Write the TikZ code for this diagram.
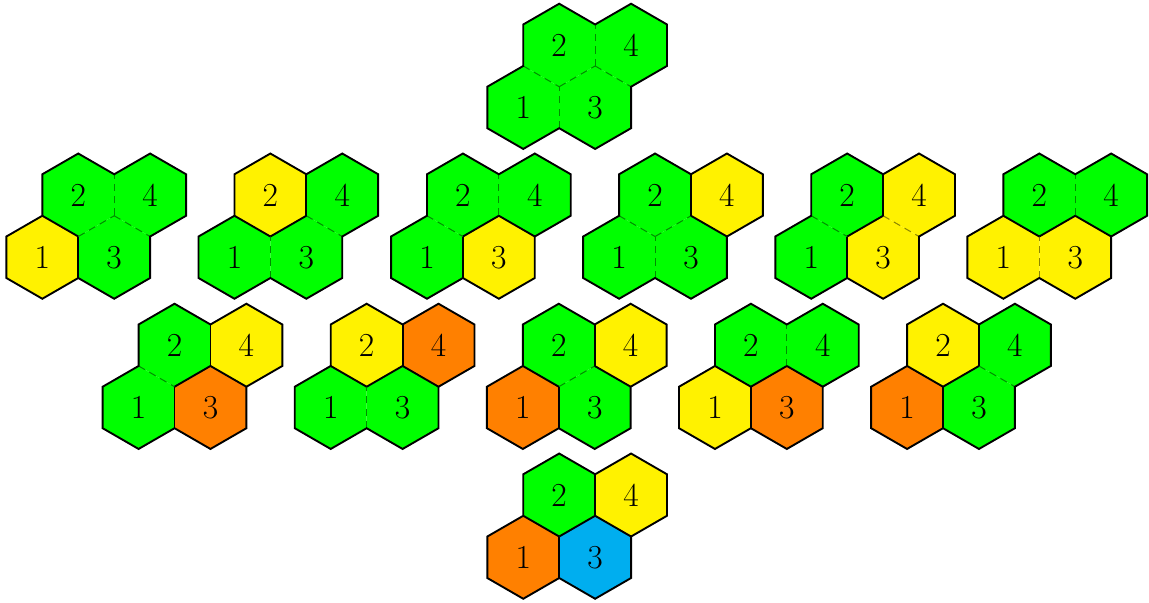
\documentclass[tikz,border=0pt]{standalone}
\usepackage{tikz}
\usepackage{xcolor}
\usetikzlibrary{calc}

\definecolor{hexgreen}{RGB}{0,255,0}
\definecolor{hexyellow}{RGB}{255,242,0}
\definecolor{hexorange}{RGB}{255,128,0}
\definecolor{hexblue}{RGB}{0,174,239}

\tikzset{
  outer edge/.style={draw=black, line width=1.3pt},
  same edge/.style={draw=#1!55!black, line width=0.7pt, dash pattern=on 5pt off 3.5pt},
  digit/.style={inner sep=0pt, font=\fontsize{23}{28}\selectfont}
}

% one cell, pointy top, circumradius 1
\newcommand{\hexcell}[2]{%
  \fill[#1] #2 ++(30:1) -- ++(150:1) -- ++(210:1) -- ++(270:1) -- ++(330:1) -- ++(30:1) -- cycle;}
% shared side: dashed when both cells have one colour
\newcommand{\hexdash}[4]{%
  \def\hexA{#1}\def\hexB{#2}%
  \ifx\hexA\hexB \draw[same edge=#1] #3 -- #4; \fi}
% shared side: black when the colours differ
\newcommand{\hexline}[4]{%
  \def\hexA{#1}\def\hexB{#2}%
  \ifx\hexA\hexB \else \draw[outer edge] #3 -- #4; \fi}
% group of four cells, cell 1 at the origin
\newcommand{\hexgroup}[5]{%
  \hexcell{#2}{(0,0)}
  \hexcell{#3}{(0.866,1.5)}
  \hexcell{#4}{(1.732,0)}
  \hexcell{#5}{(2.598,1.5)}
  \hexdash{#2}{#4}{(0.866,-0.5)}{(0.866,0.5)}
  \hexdash{#2}{#3}{(0,1)}{(0.866,0.5)}
  \hexdash{#3}{#4}{(0.866,0.5)}{(1.732,1)}
  \hexdash{#4}{#5}{(1.732,1)}{(2.598,0.5)}
  \hexdash{#3}{#5}{(1.732,1)}{(1.732,2)}
  \hexline{#2}{#4}{(0.866,-0.5)}{(0.866,0.5)}
  \hexline{#2}{#3}{(0,1)}{(0.866,0.5)}
  \hexline{#3}{#4}{(0.866,0.5)}{(1.732,1)}
  \hexline{#4}{#5}{(1.732,1)}{(2.598,0.5)}
  \hexline{#3}{#5}{(1.732,1)}{(1.732,2)}
  \draw[outer edge] (0,-1) -- (0.866,-0.5) -- (1.732,-1) -- (2.598,-0.5) -- (2.598,0.5)
    -- (3.464,1) -- (3.464,2) -- (2.598,2.5) -- (1.732,2) -- (0.866,2.5) -- (0,2)
    -- (0,1) -- (-0.866,0.5) -- (-0.866,-0.5) -- cycle;
  \node[digit] (#1-1) at (0,0) {1};
  \node[digit] (#1-2) at (0.866,1.5) {2};
  \node[digit] (#1-3) at (1.732,0) {3};
  \node[digit] (#1-4) at (2.598,1.5) {4};}

\begin{document}
\begin{tikzpicture}
  \useasboundingbox (0,0) rectangle (27.69,14.53);
  % top
  \begin{scope}[shift={(12.61,11.94)}]
    \hexgroup{top}{hexgreen}{hexgreen}{hexgreen}{hexgreen}
  \end{scope}
  % second row
  \begin{scope}[shift={(1.02,8.33)}]
    \hexgroup{b1}{hexyellow}{hexgreen}{hexgreen}{hexgreen}
  \end{scope}
  \begin{scope}[shift={(5.65,8.33)}]
    \hexgroup{b2}{hexgreen}{hexyellow}{hexgreen}{hexgreen}
  \end{scope}
  \begin{scope}[shift={(10.29,8.33)}]
    \hexgroup{b3}{hexgreen}{hexgreen}{hexyellow}{hexgreen}
  \end{scope}
  \begin{scope}[shift={(14.92,8.33)}]
    \hexgroup{b4}{hexgreen}{hexgreen}{hexgreen}{hexyellow}
  \end{scope}
  \begin{scope}[shift={(19.55,8.33)}]
    \hexgroup{b5}{hexgreen}{hexgreen}{hexyellow}{hexyellow}
  \end{scope}
  \begin{scope}[shift={(24.18,8.33)}]
    \hexgroup{b6}{hexyellow}{hexgreen}{hexyellow}{hexgreen}
  \end{scope}
  % third row
  \begin{scope}[shift={(3.34,4.71)}]
    \hexgroup{c1}{hexgreen}{hexgreen}{hexorange}{hexyellow}
  \end{scope}
  \begin{scope}[shift={(7.97,4.71)}]
    \hexgroup{c2}{hexgreen}{hexyellow}{hexgreen}{hexorange}
  \end{scope}
  \begin{scope}[shift={(12.60,4.71)}]
    \hexgroup{c3}{hexorange}{hexgreen}{hexgreen}{hexyellow}
  \end{scope}
  \begin{scope}[shift={(17.23,4.71)}]
    \hexgroup{c4}{hexyellow}{hexgreen}{hexorange}{hexgreen}
  \end{scope}
  \begin{scope}[shift={(21.86,4.71)}]
    \hexgroup{c5}{hexorange}{hexyellow}{hexgreen}{hexgreen}
  \end{scope}
  % bottom
  \begin{scope}[shift={(12.61,1.10)}]
    \hexgroup{bottom}{hexorange}{hexgreen}{hexblue}{hexyellow}
  \end{scope}
\end{tikzpicture}
\end{document}
